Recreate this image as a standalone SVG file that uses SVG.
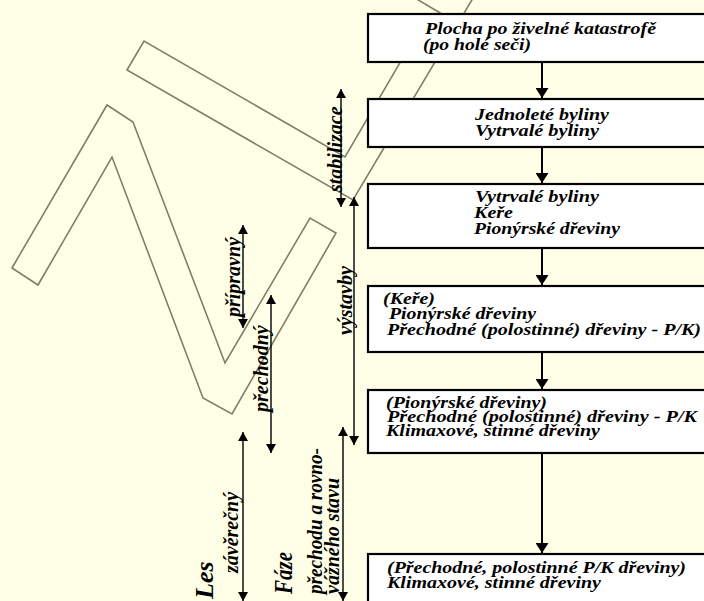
<svg xmlns="http://www.w3.org/2000/svg" width="704" height="601" viewBox="0 0 704 601">
<style>
.bg{fill:#FFFFE8}
.shape{fill:none;stroke:#7E7E6C;stroke-width:1.6;stroke-linejoin:miter}
.box{fill:#FFFFFF;stroke:#000;stroke-width:2.2}
.t{font-family:"Liberation Serif","Times New Roman",serif;font-weight:bold;font-style:italic;font-size:16px;fill:#000}
.v{font-family:"Liberation Serif","Times New Roman",serif;font-weight:bold;font-style:italic;font-size:20px;fill:#000}
.big{font-family:"Liberation Serif","Times New Roman",serif;font-weight:bold;font-style:italic;font-size:26px;fill:#000}
.conn{stroke:#000;stroke-width:2;fill:none;marker-end:url(#ah)}
.dbl{stroke:#000;stroke-width:1.4;fill:none;marker-start:url(#sh);marker-end:url(#sh)}
</style>
<defs>
<marker id="ah" markerUnits="userSpaceOnUse" viewBox="0 0 10 13" markerWidth="10" markerHeight="13" refX="10" refY="6.5" orient="auto"><path d="M0,0 L10,6.5 L0,13 z" fill="#000"/></marker>
<marker id="sh" markerUnits="userSpaceOnUse" viewBox="0 0 9 10" markerWidth="9" markerHeight="10" refX="9" refY="5" orient="auto-start-reverse"><path d="M0,0 L9,5 L0,10 z" fill="#000"/></marker>
</defs>
<rect class="bg" x="0" y="0" width="704" height="601"/>

<g id="zigzag">
<polygon class="shape" points="12,268 107,105 133,122 225,363 310,218 336,233 232,414 203,398 112,157 38,285"/>
<polygon class="shape" points="127,70 144,41 345,157 419,30 447,17 398,-12 479,-12 353,200"/>
</g>

<g id="connectors">
<line class="conn" x1="542" y1="63" x2="542" y2="98"/>
<line class="conn" x1="542" y1="148" x2="542" y2="183"/>
<line class="conn" x1="542" y1="249" x2="542" y2="285"/>
<line class="conn" x1="542" y1="353" x2="542" y2="389"/>
<line class="conn" x1="542" y1="454" x2="542" y2="553"/>
</g>

<g id="box1">
<rect class="box" x="368" y="14" width="345" height="48"/>
<text class="t" x="425" y="34" textLength="231" lengthAdjust="spacingAndGlyphs">Plocha po živelné katastrofě</text>
<text class="t" x="423" y="50" textLength="108" lengthAdjust="spacingAndGlyphs">(po holé seči)</text>
</g>
<g id="box2">
<rect class="box" x="368" y="99" width="345" height="48"/>
<text class="t" x="475" y="120" textLength="134" lengthAdjust="spacingAndGlyphs">Jednoleté byliny</text>
<text class="t" x="475" y="136" textLength="124" lengthAdjust="spacingAndGlyphs">Vytrvalé byliny</text>
</g>
<g id="box3">
<rect class="box" x="368" y="184" width="345" height="64"/>
<text class="t" x="475" y="202" textLength="124" lengthAdjust="spacingAndGlyphs">Vytrvalé byliny</text>
<text class="t" x="474" y="218" textLength="39" lengthAdjust="spacingAndGlyphs">Keře</text>
<text class="t" x="474" y="234" textLength="146" lengthAdjust="spacingAndGlyphs">Pionýrské dřeviny</text>
</g>
<g id="box4">
<rect class="box" x="368" y="286" width="345" height="66"/>
<text class="t" x="383" y="304" textLength="52" lengthAdjust="spacingAndGlyphs">(Keře)</text>
<text class="t" x="389" y="319" textLength="147" lengthAdjust="spacingAndGlyphs">Pionýrské dřeviny</text>
<text class="t" x="387" y="335" textLength="314" lengthAdjust="spacingAndGlyphs">Přechodné (polostinné) dřeviny - P/K)</text>
</g>
<g id="box5">
<rect class="box" x="368" y="390" width="345" height="63"/>
<text class="t" x="386" y="408" textLength="161" lengthAdjust="spacingAndGlyphs">(Pionýrské dřeviny)</text>
<text class="t" x="387" y="422" textLength="310" lengthAdjust="spacingAndGlyphs">Přechodné (polostinné)  dřeviny - P/K</text>
<text class="t" x="386" y="436" textLength="214" lengthAdjust="spacingAndGlyphs">Klimaxové, stinné dřeviny</text>
</g>
<g id="box6">
<rect class="box" x="368" y="554" width="345" height="60"/>
<text class="t" x="387" y="573" textLength="299" lengthAdjust="spacingAndGlyphs">(Přechodné, polostinné P/K dřeviny)</text>
<text class="t" x="387" y="588" textLength="214" lengthAdjust="spacingAndGlyphs">Klimaxové, stinné dřeviny</text>
</g>

<g id="phase-arrows">
<line class="dbl" x1="341" y1="207" x2="341" y2="89"/>
<line class="dbl" x1="354" y1="445" x2="354" y2="197"/>
<line class="dbl" x1="243" y1="328" x2="243" y2="225"/>
<line class="dbl" x1="271" y1="453" x2="271" y2="295"/>
<line class="dbl" x1="243" y1="601" x2="243" y2="432"/>
<line class="dbl" x1="343" y1="601" x2="343" y2="427"/>
</g>

<g id="phase-labels">
<text class="v" transform="translate(342,192) rotate(-90)">stabilizace</text>
<text class="v" transform="translate(352,335) rotate(-90)">výstavby</text>
<text class="v" transform="translate(240,317) rotate(-90)">přípravný</text>
<text class="v" transform="translate(268,412) rotate(-90)">přechodný</text>
<text class="v" transform="translate(238,573) rotate(-90)">závěrečný</text>
<text class="big" transform="translate(213,599) rotate(-90)">Les</text>
<text class="big" transform="translate(292,594) rotate(-90)" textLength="42" lengthAdjust="spacingAndGlyphs">Fáze</text>
<text class="v" transform="translate(322,594) rotate(-90)" textLength="146" lengthAdjust="spacingAndGlyphs">přechodu a rovno-</text>
<text class="v" transform="translate(339,594) rotate(-90)">vážného stavu</text>
</g>
</svg>
